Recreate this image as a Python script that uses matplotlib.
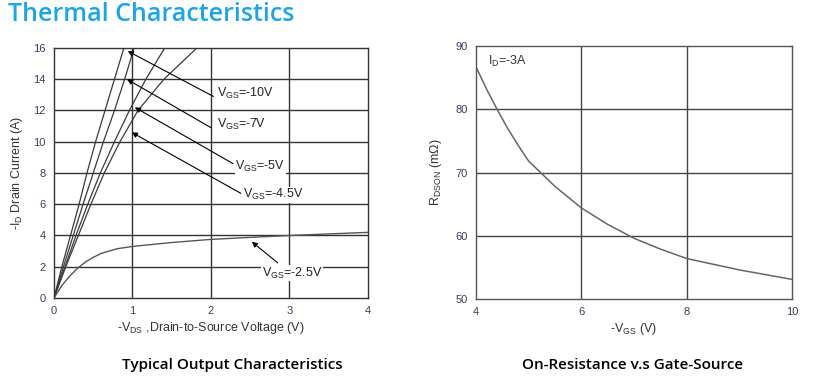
import matplotlib
matplotlib.use('Agg')
import matplotlib.pyplot as plt

plt.rcParams['font.family'] = ['Liberation Sans', 'DejaVu Sans']
plt.rcParams['mathtext.fontset'] = 'custom'
plt.rcParams['mathtext.rm'] = 'Liberation Sans'

# 输出特性: 各 VGS 曲线 (电流点, 对应的电压)
id_steep = [0, 2, 4, 6, 8, 10, 12, 14, 16]
vds_10v = [0, 0.10, 0.21, 0.32, 0.42, 0.53, 0.65, 0.77, 0.89]
vds_7v = [0, 0.12, 0.245, 0.37, 0.50, 0.63, 0.77, 0.90, 1.02]
vds_5v = [0, 0.14, 0.28, 0.43, 0.59, 0.77, 0.96, 1.17, 1.41]
vds_45v = [0, 0.15, 0.31, 0.47, 0.64, 0.84, 1.07, 1.40, 1.82]

vds_25v = [0, 0.1, 0.2, 0.3, 0.4, 0.5, 0.6, 0.8, 1.0, 1.5, 2.0, 2.5, 3.0, 3.5, 4.0]
id_25v = [0, 0.8, 1.4, 1.9, 2.3, 2.6, 2.85, 3.15, 3.3, 3.55, 3.75, 3.88, 4.0, 4.1, 4.2]

# 导通电阻 vs 栅源电压
vgs = [4.0, 4.2, 4.4, 4.6, 4.8, 5.0, 5.5, 6.0, 6.5, 7.0, 7.5, 8.0, 9.0, 10.0]
rdson = [86.7, 83.2, 80.0, 77.0, 74.3, 71.8, 67.8, 64.4, 61.8, 59.6, 57.9, 56.4, 54.6, 53.1]

labels = ['V$_{\\rm GS}$=-10V', 'V$_{\\rm GS}$=-7V', 'V$_{\\rm GS}$=-5V',
          'V$_{\\rm GS}$=-4.5V', 'V$_{\\rm GS}$=-2.5V']
arrow_tips = [(0.94, 15.8), (0.93, 14.0), (1.03, 12.2), (0.99, 10.6), (2.52, 3.6)]
arrow_tails = [(2.03, 12.9), (2.0, 10.9), (2.28, 8.6), (2.38, 6.7), (2.85, 2.25)]
text_pos = [(2.08, 13.1), (2.08, 11.1), (2.31, 8.4), (2.41, 6.6), (2.65, 1.6)]

tick_color = '#45385a'
grid_color = '#333333'

fig = plt.figure(figsize=(8.17, 3.86), dpi=100)

fig.text(0.010, 0.962, 'Thermal Characteristics', color='#1aa6e6', fontsize=18,
         fontweight='semibold', family=['Open Sans', 'DejaVu Sans'], va='center', ha='left')

# 左图
ax1 = fig.add_axes([0.0661, 0.228, 0.3843, 0.6477])
for v in [1, 2, 3]:
    ax1.axvline(v, color=grid_color, lw=1, zorder=1)
for i in [2, 4, 6, 8, 10, 12, 14]:
    ax1.axhline(i, color=grid_color, lw=1, zorder=1)
for vv in [vds_10v, vds_7v, vds_5v, vds_45v]:
    ax1.plot(vv, id_steep, color='#3a3a3a', lw=0.9, zorder=2)
ax1.plot(vds_25v, id_25v, color='#555555', lw=1.0, zorder=2)
for lab, tip, tail, tp in zip(labels, arrow_tips, arrow_tails, text_pos):
    ax1.annotate('', xy=tip, xytext=tail,
                 arrowprops=dict(arrowstyle='-|>', color='k', lw=0.8,
                                 mutation_scale=8, shrinkA=0, shrinkB=0), zorder=4)
    ax1.text(tp[0], tp[1], lab, fontsize=9, color='#222222', ha='left', va='center',
             zorder=5, bbox=dict(facecolor='white', edgecolor='none', pad=0.5))
ax1.set_xlim(0, 4)
ax1.set_ylim(0, 16)
ax1.set_xticks([0, 1, 2, 3, 4])
ax1.set_yticks(range(0, 17, 2))
ax1.tick_params(length=0, labelsize=8, labelcolor=tick_color, pad=6)
for s in ax1.spines.values():
    s.set_color(grid_color)
    s.set_linewidth(1)
ax1.set_xlabel('-V$_{\\rm DS}$ ,Drain-to-Source Voltage (V)', fontsize=9, color='#333333', labelpad=3)
ax1.set_ylabel('-I$_{\\rm D}$ Drain Current (A)', fontsize=9, color='#333333', labelpad=6)

# 右图
ax2 = fig.add_axes([0.5826, 0.2254, 0.3868, 0.6554])
for v in [6, 8]:
    ax2.axvline(v, color='#444444', lw=1, zorder=1)
for r in [60, 70, 80]:
    ax2.axhline(r, color='#444444', lw=1, zorder=1)
ax2.plot(vgs, rdson, color='#666666', lw=1.1, zorder=2)
ax2.text(4.23, 87.5, 'I$_{\\rm D}$=-3A', fontsize=9, color='#333333', ha='left', va='center')
ax2.set_xlim(4, 10)
ax2.set_ylim(50, 90)
ax2.set_xticks([4, 6, 8, 10])
ax2.set_yticks([50, 60, 70, 80, 90])
ax2.tick_params(length=0, labelsize=8, labelcolor=tick_color, pad=6)
for s in ax2.spines.values():
    s.set_color('#555555')
    s.set_linewidth(1)
ax2.set_xlabel('-V$_{\\rm GS}$ (V)', fontsize=9, color='#333333', labelpad=3)
ax2.set_ylabel('R$_{\\rm DSON}$ (m$\\Omega$)', fontsize=9, color='#333333', labelpad=8)

fig.text(0.284, 0.055, 'Typical Output Characteristics', fontsize=11, fontweight='semibold',
         ha='center', va='center', family=['Open Sans', 'DejaVu Sans'])
fig.text(0.774, 0.055, 'On-Resistance v.s Gate-Source', fontsize=11, fontweight='semibold',
         ha='center', va='center', family=['Open Sans', 'DejaVu Sans'])

fig.savefig('out.png', dpi=100)
